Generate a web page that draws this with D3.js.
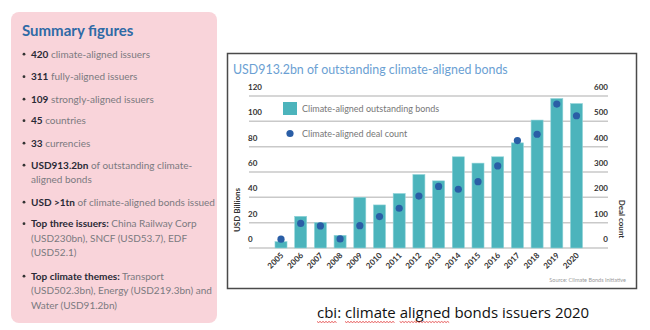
<!DOCTYPE html>
<html>
<head>
<meta charset="utf-8">
<script src="https://cdn.jsdelivr.net/npm/d3@7"></script>
<style>
  body { margin: 0; background: #fff; }
  svg { display: block; }
</style>
</head>
<body>
<svg id="chart" width="650" height="330"></svg>
<script>
// data
var years = ["2005", "2006", "2007", "2008", "2009", "2010", "2011", "2012",
             "2013", "2014", "2015", "2016", "2017", "2018", "2019", "2020"];
var bonds = [5, 25, 20, 10, 40, 34, 43, 58, 53, 72, 67, 72, 83, 101, 118, 114]; // USD bn
var deals = [35, 97, 87, 36, 88, 124, 157, 205, 243, 232, 262, 324, 424, 449, 568, 522];
var leftTicks = [0, 20, 40, 60, 80, 100, 120];
var rightTicks = [0, 100, 200, 300, 400, 500, 600];

// summary panel: each item is a list of lines, each line is [bold, normal]
var summary = [
  [["420", " climate-aligned issuers"]],
  [["311", " fully-aligned issuers"]],
  [["109", " strongly-aligned issuers"]],
  [["45", " countries"]],
  [["33", " currencies"]],
  [["USD913.2bn", " of outstanding climate-"], ["", "aligned bonds"]],
  [["USD >1tn", " of climate-aligned bonds issued"]],
  [["Top three issuers:", " China Railway Corp"], ["", "(USD230bn), SNCF (USD53.7), EDF"], ["", "(USD52.1)"]],
  [["Top climate themes:", " Transport"], ["", "(USD502.3bn), Energy (USD219.3bn) and"], ["", "Water (USD91.2bn)"]]
];
var summaryY = [57.5, 80, 102.5, 124, 146.5, 168.5, 205.5, 227, 279.5];

var svg = d3.select("#chart");
var font = "Lato, 'Open Sans', sans-serif";

/////////////////////////////
// left summary panel
svg.append("rect")
  .attr("x", 11).attr("y", 12)
  .attr("width", 206).attr("height", 311)
  .attr("rx", 8)
  .style("fill", "#f9d4da");

svg.append("text")
  .attr("x", 22).attr("y", 36)
  .style("font-family", font)
  .style("font-weight", "bold")
  .style("font-size", "15px")
  .style("fill", "#2f6aa6")
  .text("Summary figures");

summary.forEach(function(item, i) {
  svg.append("circle")
    .attr("cx", 24).attr("cy", summaryY[i] - 3.3)
    .attr("r", 1.4)
    .style("fill", "#333");
  item.forEach(function(line, j) {
    var t = svg.append("text")
      .attr("x", 31)
      .attr("y", summaryY[i] + j * 14.5)
      .style("font-family", font)
      .style("font-size", "10px");
    if (line[0] !== "") {
      t.append("tspan").style("font-weight", "bold").style("fill", "#2a2a36").text(line[0]);
    }
    t.append("tspan").style("fill", "#7b7a80").text(line[1]);
  });
});

/////////////////////////////
// chart frame
svg.append("rect")
  .attr("x", 227.5).attr("y", 53.5)
  .attr("width", 409).attr("height", 235)
  .style("fill", "white")
  .style("stroke", "#4a4a4a")
  .style("stroke-width", 1.5);

svg.append("text")
  .attr("x", 233).attr("y", 74)
  .style("font-family", font)
  .style("font-size", "12.4px")
  .style("fill", "#6b9fd3")
  .text("USD913.2bn of outstanding climate-aligned bonds");

var x = d3.scaleBand()
  .domain(years)
  .range([271.15, 586.35])
  .paddingInner(0.39)
  .paddingOuter(0.195);

var yL = d3.scaleLinear().domain([0, 120]).range([248, 96]);
var yR = d3.scaleLinear().domain([0, 600]).range([248, 96]);

// gridlines
svg.append("g").selectAll("line")
  .data(leftTicks)
  .enter().append("line")
  .attr("x1", 249).attr("x2", 608)
  .attr("y1", function(d) { return yL(d); })
  .attr("y2", function(d) { return yL(d); })
  .style("stroke", "#c9c9c9")
  .style("stroke-width", 1.5);

// left tick labels
svg.append("g").selectAll("text")
  .data(leftTicks)
  .enter().append("text")
  .attr("x", 248)
  .attr("y", function(d) { return yL(d) - 6; })
  .style("font-family", font)
  .style("font-weight", "bold")
  .style("font-size", "8px")
  .style("fill", "#333")
  .text(function(d) { return d; });

// right tick labels
svg.append("g").selectAll("text")
  .data(rightTicks)
  .enter().append("text")
  .attr("x", 608)
  .attr("y", function(d) { return yR(d) - 6; })
  .attr("text-anchor", "end")
  .style("font-family", font)
  .style("font-weight", "bold")
  .style("font-size", "8px")
  .style("fill", "#333")
  .text(function(d) { return d; });

// axis titles
svg.append("text")
  .attr("transform", "translate(240,210) rotate(-90)")
  .attr("text-anchor", "middle")
  .style("font-family", font)
  .style("font-weight", "bold")
  .style("font-size", "8px")
  .style("fill", "#333")
  .text("USD Billions");

svg.append("text")
  .attr("transform", "translate(619,219) rotate(90)")
  .attr("text-anchor", "middle")
  .style("font-family", font)
  .style("font-weight", "bold")
  .style("font-size", "8px")
  .style("fill", "#333")
  .text("Deal count");

// bars
svg.append("g").selectAll("rect")
  .data(bonds)
  .enter().append("rect")
  .attr("x", function(d, i) { return x(years[i]); })
  .attr("y", function(d) { return yL(d); })
  .attr("width", x.bandwidth())
  .attr("height", function(d) { return yL(0) - yL(d); })
  .style("fill", "#4cb4bc")
  .style("stroke", "#8fd3d8")
  .style("stroke-width", 0.6);

// deal count dots
svg.append("g").selectAll("circle")
  .data(deals)
  .enter().append("circle")
  .attr("cx", function(d, i) { return x(years[i]) + x.bandwidth() / 2; })
  .attr("cy", function(d) { return yR(d); })
  .attr("r", 3.6)
  .style("fill", "#2a5ea6");

// x labels
svg.append("g").selectAll("text")
  .data(years)
  .enter().append("text")
  .attr("text-anchor", "end")
  .attr("transform", function(d) {
    return "translate(" + (x(d) + x.bandwidth() / 2 + 3) + ",256) rotate(-45)";
  })
  .style("font-family", font)
  .style("font-weight", "bold")
  .style("font-size", "8px")
  .style("fill", "#333")
  .text(function(d) { return d; });

// legend
svg.append("rect")
  .attr("x", 283).attr("y", 102)
  .attr("width", 14).attr("height", 13)
  .style("fill", "#4cb4bc");
svg.append("circle")
  .attr("cx", 290).attr("cy", 133.5).attr("r", 3.6)
  .style("fill", "#2a5ea6");
svg.append("text")
  .attr("x", 302).attr("y", 111.5)
  .style("font-family", font).style("font-size", "9px").style("fill", "#777")
  .text("Climate-aligned outstanding bonds");
svg.append("text")
  .attr("x", 302).attr("y", 136.5)
  .style("font-family", font).style("font-size", "9px").style("fill", "#777")
  .text("Climate-aligned deal count");

// source
svg.append("text")
  .attr("x", 626).attr("y", 282)
  .attr("text-anchor", "end")
  .style("font-family", font).style("font-size", "5.5px").style("fill", "#9a9a9a")
  .text("Source: Climate Bonds Initiative");

/////////////////////////////
// caption with spell-check squiggles
var capText = "cbi: climate aligned bonds issuers 2020";
var cap = svg.append("text")
  .attr("x", 317).attr("y", 318)
  .style("font-family", "'Open Sans', sans-serif")
  .style("font-size", "15px")
  .style("fill", "#111")
  .text(capText);

var capNode = cap.node();
["cbi", "climate", "aligned"].forEach(function(w) {
  var start = capText.indexOf(w);
  var x0 = 317 + capNode.getSubStringLength(0, start);
  var len = capNode.getSubStringLength(start, w.length);
  var pts = [];
  for (var px = 0; px <= len; px += 1.5) {
    pts.push([x0 + px, 321.5 + ((Math.round(px / 1.5) % 2) ? 1 : 0)]);
  }
  svg.append("path")
    .attr("d", d3.line()(pts))
    .style("fill", "none")
    .style("stroke", "#e03030")
    .style("stroke-width", 0.8);
});
</script>
</body>
</html>
